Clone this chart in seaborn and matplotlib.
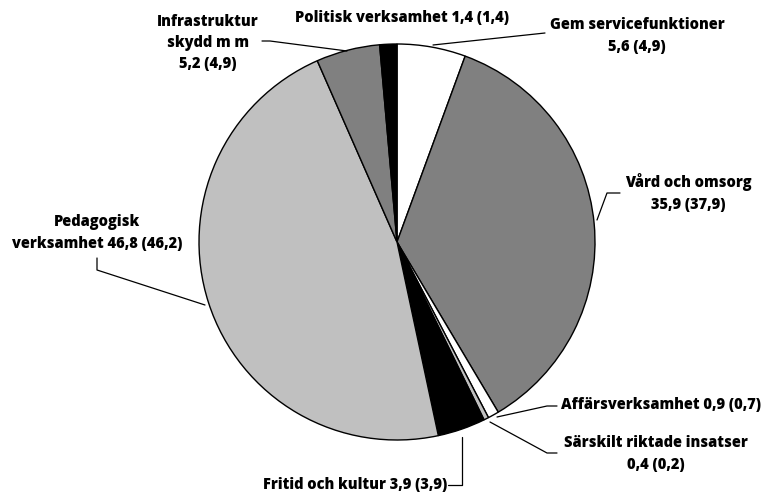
import matplotlib
matplotlib.use("Agg")
import matplotlib.pyplot as plt
import seaborn as sns

sns.set_theme(style="white")
plt.rcParams['font.family'] = ['Open Sans', 'DejaVu Sans']

categories = ["Gem servicefunktioner", "Vård och omsorg", "Affärsverksamhet",
              "Särskilt riktade insatser", "Fritid och kultur",
              "Pedagogisk verksamhet", "Infrastruktur skydd m m", "Politisk verksamhet"]
values = [5.6, 35.9, 0.9, 0.4, 3.9, 46.8, 5.2, 1.4]
prev_values = [4.9, 37.9, 0.7, 0.2, 3.9, 46.2, 4.9, 1.4]
colors = ["#ffffff", "#808080", "#ffffff", "#c0c0c0", "#000000", "#c0c0c0", "#808080", "#000000"]
label_texts = [
    "Gem servicefunktioner\n5,6 (4,9)",
    "Vård och omsorg\n35,9 (37,9)",
    "Affärsverksamhet 0,9 (0,7)",
    "Särskilt riktade insatser\n0,4 (0,2)",
    "Fritid och kultur 3,9 (3,9)",
    "Pedagogisk\nverksamhet 46,8 (46,2)",
    "Infrastruktur\nskydd m m\n5,2 (4,9)",
    "Politisk verksamhet 1,4 (1,4)",
]

W, H = 766, 494
fig = plt.figure(figsize=(W / 100, H / 100), dpi=100)
ax = fig.add_axes([0, 0, 1, 1])

def P(x, y):
    return x, H - y

cx, cy = P(397, 242)
ax.pie(values, colors=colors, startangle=90, counterclock=False,
       center=(cx, cy), radius=198,
       wedgeprops=dict(edgecolor="black", linewidth=1.0))
ax.set_xlim(0, W)
ax.set_ylim(0, H)
ax.set_aspect("auto")
ax.axis("off")

# label placements: (x, y, ha)
label_pos = [
    (637, 36, "center"),
    (688, 193, "center"),
    (561, 405, "left"),
    (656, 454, "center"),
    (447, 485, "right"),
    (97, 233, "center"),
    (208, 43, "center"),
    (402, 18, "center"),
]
for txt, (x, y, ha) in zip(label_texts, label_pos):
    ax.text(*P(x, y), txt, ha=ha, va="center", multialignment="center",
            fontsize=10.5, fontweight="heavy", color="black", linespacing=1.45)

leaders = [
    [(433, 45), (545, 33)],
    [(620, 193), (607, 193), (597, 220)],
    [(557, 406), (547, 406), (497, 417)],
    [(557, 453), (547, 453), (490, 422)],
    [(448, 485), (462, 485), (462, 437)],
    [(97, 258), (97, 270), (205, 305)],
    [(262, 41), (270, 41), (347, 51)],
]
for pts in leaders:
    xs = [p[0] for p in pts]
    ys = [H - p[1] for p in pts]
    ax.plot(xs, ys, color="black", linewidth=0.9)

fig.savefig("out.png", dpi=100)
